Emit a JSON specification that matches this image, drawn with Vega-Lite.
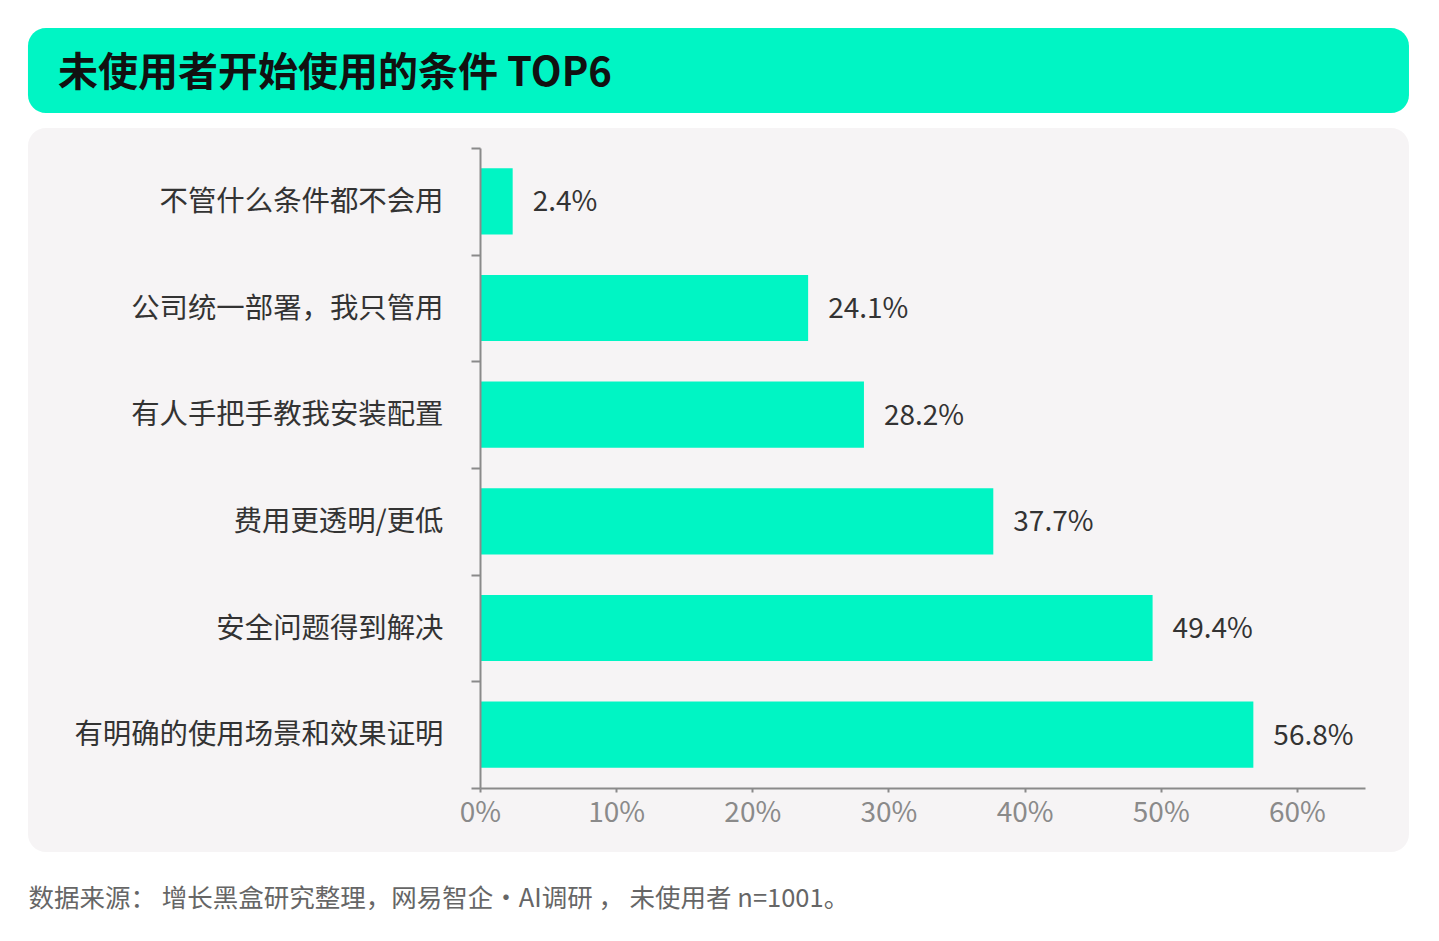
{
  "$schema": "https://vega.github.io/schema/vega-lite/v6.json",
  "autosize": "none",
  "width": 885,
  "height": 640,
  "padding": {"left": 480, "top": 148, "right": 74, "bottom": 153},
  "background": "#FFFFFF",
  "title": {
    "text": "未使用者开始使用的条件 TOP6",
    "anchor": "start",
    "frame": "group",
    "dx": -422,
    "offset": -86,
    "baseline": "middle",
    "fontSize": 40,
    "fontWeight": "bold",
    "color": "#111111",
    "zindex": 1
  },
  "data": {
    "values": [
      {"condition": "不管什么条件都不会用", "value": 0.024},
      {"condition": "公司统一部署，我只管用", "value": 0.241},
      {"condition": "有人手把手教我安装配置", "value": 0.282},
      {"condition": "费用更透明/更低", "value": 0.377},
      {"condition": "安全问题得到解决", "value": 0.494},
      {"condition": "有明确的使用场景和效果证明", "value": 0.568}
    ]
  },
  "layer": [
    {
      "data": {"values": [{}]},
      "layer": [
        {
          "mark": {"type": "rect", "color": "#F6F4F5", "cornerRadius": 18},
          "encoding": {
            "x": {"datum": -0.332, "type": "quantitative", "scale": {"domain": [0, 0.65]}},
            "x2": {"datum": 0.6823},
            "y": {"datum": -0.1, "type": "quantitative", "scale": {"domain": [0, 1], "nice": false, "zero": false}, "axis": null},
            "y2": {"datum": 1.03125}
          }
        },
        {
          "mark": {"type": "rect", "color": "#00F5C4", "cornerRadius": 18},
          "encoding": {
            "x": {"datum": -0.332, "type": "quantitative", "scale": {"domain": [0, 0.65]}},
            "x2": {"datum": 0.6823},
            "y": {"datum": 1.0547, "type": "quantitative", "scale": {"domain": [0, 1], "nice": false, "zero": false}, "axis": null},
            "y2": {"datum": 1.1875}
          }
        }
      ]
    },
    {
      "encoding": {
        "y": {
          "field": "condition",
          "type": "nominal",
          "sort": null,
          "scale": {"paddingInner": 0, "paddingOuter": 0},
          "axis": {
            "title": null,
            "zindex": 1,
            "labelFontSize": 28.4,
            "labelColor": "#333333",
            "labelPadding": 28,
            "labelLimit": 600,
            "tickBand": "extent",
            "tickSize": 9,
            "tickWidth": 2,
            "tickColor": "#8A8A8A",
            "domainColor": "#8A8A8A",
            "domainWidth": 2
          }
        },
        "x": {
          "field": "value",
          "type": "quantitative",
          "scale": {"domain": [0, 0.65]},
          "axis": {
            "zindex": 1,
            "values": [0, 0.1, 0.2, 0.3, 0.4, 0.5, 0.6],
            "format": ".0%",
            "grid": false,
            "labelFlush": false,
            "labelFontSize": 28,
            "labelColor": "#8A8A8A",
            "labelPadding": 7,
            "tickSize": 4,
            "tickWidth": 2,
            "tickColor": "#8A8A8A",
            "domainColor": "#8A8A8A",
            "domainWidth": 2,
            "title": "数据来源：  增长黑盒研究整理，网易智企·AI调研 ， 未使用者 n=1001。",
            "titleX": -452,
            "titleY": 110,
            "titleAlign": "left",
            "titleAnchor": "start",
            "titleBaseline": "middle",
            "titleFontSize": 25.5,
            "titleFontWeight": "normal",
            "titleColor": "#666666"
          }
        }
      },
      "layer": [
        {"mark": {"type": "bar", "color": "#00F5C4", "height": {"band": 0.62}}},
        {
          "mark": {"type": "text", "align": "left", "baseline": "middle", "dx": 20, "dy": 2, "fontSize": 28, "color": "#333333"},
          "encoding": {"text": {"field": "value", "type": "quantitative", "format": ".1%"}}
        }
      ]
    }
  ],
  "resolve": {"scale": {"y": "independent"}, "axis": {"y": "independent"}},
  "config": {
    "font": "Noto Sans CJK SC",
    "view": {"stroke": null}
  }
}
